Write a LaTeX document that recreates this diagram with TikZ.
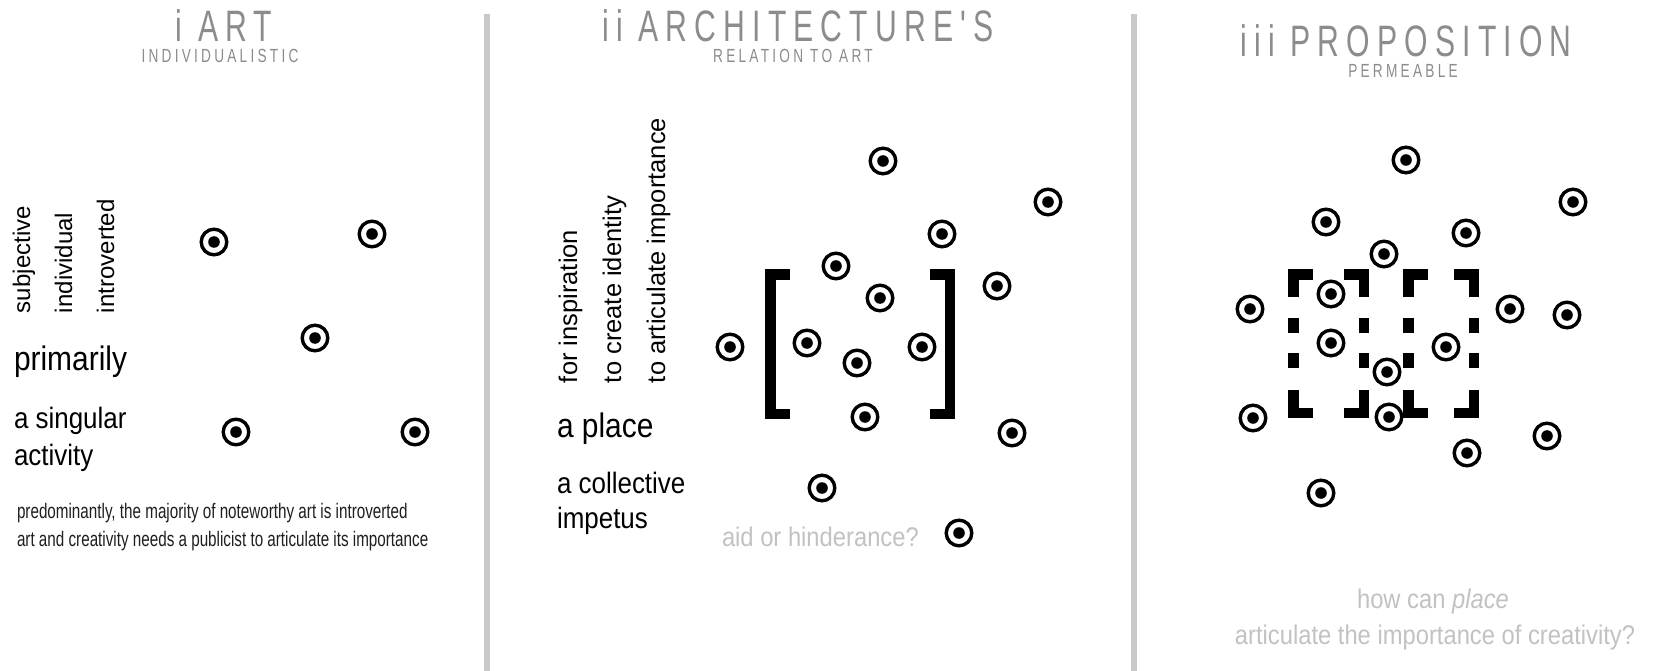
\documentclass[tikz,border=0pt]{standalone}
\usepackage{fontspec}
\setmainfont{Liberation Sans}
\newfontfamily\narrowfont[FakeStretch=0.88]{Liberation Sans}
\newfontfamily\condfont[FakeStretch=0.725]{Liberation Sans}
\newfontfamily\titlefont[FakeStretch=0.685,LetterSpace=16.3]{Liberation Sans}
\newfontfamily\subfont[FakeStretch=0.72,LetterSpace=17]{Liberation Sans}
\usepackage{tikz}

\definecolor{titlegray}{gray}{0.55}
\definecolor{rulegray}{gray}{0.79}
\definecolor{askgray}{gray}{0.76}

\begin{document}
\begin{tikzpicture}[x=1pt, y=-1pt,
    every node/.style={inner sep=0pt, outer sep=0pt},
    title/.style={anchor=base, text=titlegray, text depth=0pt, font=\titlefont\fontsize{44}{46}\selectfont},
    subtitle/.style={anchor=base, text=titlegray, text height=14pt, font=\subfont\fontsize{19}{20}\selectfont},
    upword/.style={rotate=90, anchor=base west, font=\fontsize{#1}{#1}\selectfont},
    bigword/.style={anchor=base west, font=\narrowfont\fontsize{34}{34}\selectfont},
    phrase/.style={anchor=base west, font=\narrowfont\fontsize{29.5}{29.5}\selectfont},
    note/.style={anchor=base west, text=black!88, font=\condfont\fontsize{21}{21}\selectfont},
    question/.style={text=askgray, font=\narrowfont\fontsize{27}{27}\selectfont},
    target/.style={circle, draw, fill=white, line width=3.4pt, minimum size=25.6pt,
        path picture={\fill[black] (path picture bounding box.center) circle[radius=5.8pt];}},
    bracket/.style={line width=10.5pt, line join=miter},
    divider/.style={rulegray, line width=6pt}]

    % Page
    \fill[white] (0,0) rectangle (1655,671);
    \useasboundingbox (0,0) rectangle (1655,671);

    % Dividers
    \draw[divider] (487,14) -- (487,671);
    \draw[divider] (1134,14) -- (1134,671);

    % ---------- i ART ----------
    \node[title] (art) at (224,42) {i ART};
    \node[subtitle] (artsub) at (220,63) {INDIVIDUALISTIC};

    \node[upword=24] (subjective) at (30,313) {subjective};
    \node[upword=24] (individual) at (72,313) {individual};
    \node[upword=24] (introverted) at (114,313) {introverted};

    \node[bigword] (primarily) at (14,370) {primarily};
    \node[phrase] (singular) at (14,428) {a singular};
    \node[phrase] (activity) at (14,465) {activity};

    \node[note] (noteone) at (17,518) {predominantly, the majority of noteworthy art is introverted};
    \node[note] (notetwo) at (17,546) {art and creativity needs a publicist to articulate its importance};

    % Individual targets
    \node[target] (a1) at (214,242) {};
    \node[target] (a2) at (372,234) {};
    \node[target] (a3) at (315,338) {};
    \node[target] (a4) at (236,432) {};
    \node[target] (a5) at (415,432) {};

    % ---------- ii ARCHITECTURE'S ----------
    \node[title] (arch) at (798,42) {ii ARCHITECTURE'S};
    \node[subtitle] (archsub) at (793,63) {RELATION TO ART};

    \node[upword=25.5] (inspiration) at (577,383) {for inspiration};
    \node[upword=25.5] (identity) at (621,383) {to create identity};
    \node[upword=25.5] (importance) at (665,383) {to articulate importance};

    \node[bigword] (place) at (557,437) {a place};
    \node[phrase] (collective) at (557,493) {a collective};
    \node[phrase] (impetus) at (557,528) {impetus};

    \node[question, anchor=base west] (aid) at (722,546) {aid or hinderance?};

    % Closed place
    \draw[bracket] (790,274.25) -| (770.25,413.75) -- (790,413.75);
    \draw[bracket] (930,274.25) -| (949.75,413.75) -- (930,413.75);

    \node[target] (b1) at (883,161) {};
    \node[target] (b2) at (1048,202) {};
    \node[target] (b3) at (942,234) {};
    \node[target] (b4) at (836,266) {};
    \node[target] (b5) at (997,286) {};
    \node[target] (b6) at (880,298) {};
    \node[target] (b7) at (730,347) {};
    \node[target] (b8) at (807,343) {};
    \node[target] (b9) at (857,363) {};
    \node[target] (b10) at (922,347) {};
    \node[target] (b11) at (865,417) {};
    \node[target] (b12) at (1012,433) {};
    \node[target] (b13) at (822,488) {};
    \node[target] (b14) at (959,533) {};

    % ---------- iii PROPOSITION ----------
    \node[title] (prop) at (1406,57) {iii PROPOSITION};
    \node[subtitle] (propsub) at (1403,78) {PERMEABLE};

    % Left permeable box
    \draw[bracket] (1313,274.25) -| (1293.25,297);
    \draw[bracket] (1344,274.25) -| (1363.75,297);
    \draw[bracket] (1293.25,390) |- (1313,412.75);
    \draw[bracket] (1363.75,390) |- (1344,412.75);
    \draw[bracket] (1293.25,318) -- (1293.25,333) (1293.25,353) -- (1293.25,368);
    \draw[bracket] (1363.75,318) -- (1363.75,333) (1363.75,353) -- (1363.75,368);

    % Right permeable box
    \draw[bracket] (1428,274.25) -| (1408.25,297);
    \draw[bracket] (1454,274.25) -| (1473.75,297);
    \draw[bracket] (1408.25,390) |- (1428,412.75);
    \draw[bracket] (1473.75,390) |- (1454,412.75);
    \draw[bracket] (1408.25,318) -- (1408.25,333) (1408.25,353) -- (1408.25,368);
    \draw[bracket] (1473.75,318) -- (1473.75,333) (1473.75,353) -- (1473.75,368);

    \node[target] (c1) at (1406,160) {};
    \node[target] (c2) at (1573,202) {};
    \node[target] (c3) at (1326,222) {};
    \node[target] (c4) at (1466,233) {};
    \node[target] (c5) at (1384,254) {};
    \node[target] (c6) at (1331,294) {};
    \node[target] (c7) at (1250,309) {};
    \node[target] (c8) at (1510,309) {};
    \node[target] (c9) at (1567,315) {};
    \node[target] (c10) at (1331,343) {};
    \node[target] (c11) at (1446,347) {};
    \node[target] (c12) at (1387,372) {};
    \node[target] (c13) at (1253,418) {};
    \node[target] (c14) at (1389,417) {};
    \node[target] (c15) at (1467,453) {};
    \node[target] (c16) at (1547,436) {};
    \node[target] (c17) at (1321,493) {};

    \node[question, anchor=base] (how) at (1433,608) {how can \textit{place}};
    \node[question, anchor=base] (creativity) at (1435,644) {articulate the importance of creativity?};

\end{tikzpicture}
\end{document}
